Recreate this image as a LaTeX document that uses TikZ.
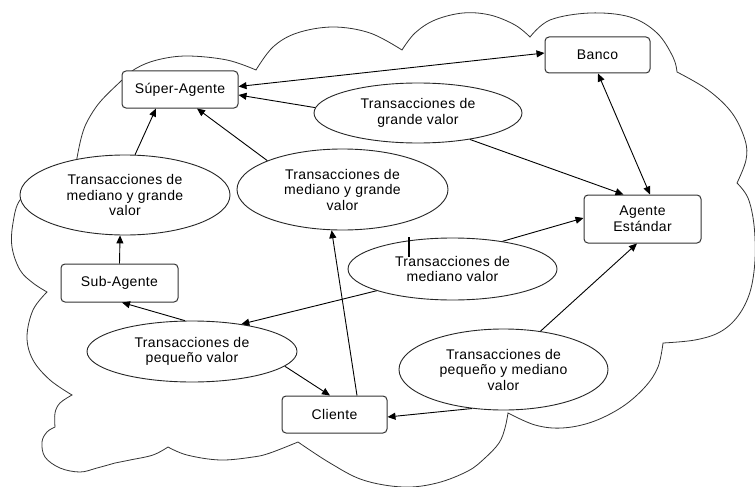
\documentclass[tikz,border=0pt]{standalone}
\usepackage{fontspec}
\setmainfont{Liberation Sans}[LetterSpace=2.5]
\usetikzlibrary{shapes.geometric,arrows.meta,calc}
\newcommand\diagfont{\fontsize{14}{15.5}\selectfont}
\begin{document}
\begin{tikzpicture}[x=1pt,y=-1pt,
  box/.style={draw=black!80, line width=1pt, rounded corners=4pt, fill=white, align=center, inner sep=0pt, font=\diagfont},
  ell/.style={ellipse, draw=black!85, line width=0.9pt, fill=white, align=center, inner sep=0pt, font=\diagfont},
  cloud/.style={draw=black!80, line width=0.8pt, line join=miter},
  conn/.style={draw=black, line width=0.9pt, -{Triangle[length=8pt,width=7pt]}},
  conntwo/.style={draw=black, line width=0.9pt, {Triangle[length=8pt,width=7pt]}-{Triangle[length=8pt,width=7pt]}},
  tick/.style={draw=black, line width=1.6pt}
]
\useasboundingbox (0,0) rectangle (755,487);
% cloud outline
\path[cloud]
  plot[smooth,tension=0.6] coordinates {(74,180) (77,158) (82,135) (88,120) (100,102) (120,82) (135,69) (157,60) (187,56) (227,60) (256,70)}
  -- plot[smooth,tension=0.6] coordinates {(256,70) (273,47) (297,33) (333,27) (370,33) (402,50)}
  -- plot[smooth,tension=0.6] coordinates {(402,50) (415,33) (435,20) (463,13) (490,15) (515,25) (530,37)}
  -- plot[smooth,tension=0.6] coordinates {(530,37) (550,20) (590,13) (630,17) (657,33) (673,57) (677,72)}
  -- plot[smooth,tension=0.6] coordinates {(677,72) (708,90) (732,113) (745,140) (746,160) (737,183)}
  -- plot[smooth,tension=0.6] coordinates {(737,183) (748,198) (754,225) (755,260) (750,292) (738,316) (720,332) (695,340) (663,343)}
  -- plot[smooth,tension=0.6] coordinates {(663,343) (658,367) (645,387) (622,407) (592,422) (562,428) (535,425) (508,413)}
  -- plot[smooth,tension=0.6] coordinates {(508,413) (505,428) (499,443) (485,458) (468,471) (437,483) (403,487) (363,480) (330,463) (298,442)}
  -- plot[smooth,tension=0.6] coordinates {(298,442) (270,453) (253,457) (220,460) (187,455) (168,447)}
  -- plot[smooth,tension=0.6] coordinates {(168,447) (153,455) (130,460) (115,463)}
  -- plot[smooth,tension=0.6] coordinates {(115,463) (97,468) (80,472) (60,468) (45,457) (42,442) (47,432) (55,427)}
  -- plot[smooth,tension=0.6] coordinates {(55,427) (55,413) (60,403) (72,395)}
  -- plot[smooth,tension=0.6] coordinates {(72,395) (50,380) (33,360) (27,337) (33,310) (47,292)}
  -- plot[smooth,tension=0.6] coordinates {(47,292) (33,283) (20,270) (12,247) (13,223) (20,200) (40,186) (74,180)};
% boxes
\node[box, minimum width=116pt, minimum height=37pt] (super) at (180,89.5) {Súper-Agente};
\node[box, minimum width=105pt, minimum height=36pt] (banco) at (597.5,55) {Banco};
\node[box, minimum width=117pt, minimum height=48pt] (agente) at (642.5,219) {Agente\\Estándar};
\node[box, minimum width=117pt, minimum height=38pt] (sub) at (119.5,283) {Sub-Agente};
\node[box, minimum width=105pt, minimum height=37pt] (cliente) at (334.5,414.5) {Cliente};
% ellipses
\node[ell, minimum width=208pt, minimum height=60pt] (e1) at (418,113) {Transacciones de\\grande valor};
\node[ell, minimum width=210pt, minimum height=80pt] (e2) at (125,195) {Transacciones de\\mediano y grande\\valor};
\node[ell, minimum width=211pt, minimum height=81pt] (e3) at (342.5,189.5) {Transacciones de\\mediano y grande\\valor};
\node[ell, minimum width=209pt, minimum height=62pt] (e4) at (452.5,269) {Transacciones de\\mediano valor};
\node[ell, minimum width=210pt, minimum height=61pt] (e5) at (192,351.5) {Transacciones de\\pequeño valor};
\node[ell, minimum width=209pt, minimum height=81pt] (e6) at (503.5,369.5) {Transacciones de\\pequeño y mediano\\valor};
% connectors
\draw[conntwo] ($(super.east)+(0,-3)$) -- ($(banco.west)+(0,-2)$);
\draw[conn] (e1.177) -- ($(super.east)+(0,5.5)$);
\draw[conn] (e1.-27) -- ($(agente.north)+(-19,0)$);
\draw[conntwo] ($(banco.south)+(0.5,0)$) -- ($(agente.north)+(7.5,0)$);
\draw[conn] (e2.76) -- ($(super.south)+(-24,0)$);
\draw[conn] (e3.159) -- ($(super.south)+(17,0)$);
\draw[conn] (sub.north) -- (e2.263);
\draw[conn] (e5.103) -- ($(sub.south)+(2.5,0)$);
\draw[conn] (e4.196) -- (e5.29);
\draw[conn] (e4.29) -- ($(agente.west)+(0,-1)$);
\draw[conn] (e5.-9.5) -- ($(cliente.north)+(-4.5,0)$);
\draw[conn] ($(cliente.north)+(22.5,0)$) -- (e3.255);
\draw[conn] (e6.46) -- ($(agente.south)+(-5.5,0)$);
\draw[conn] (e6.231) -- ($(cliente.east)+(0,2.5)$);
% stray mark
\draw[tick] ($(e4.center)+(-43.5,-32)$) -- ($(e4.center)+(-43.5,-12)$);
\end{tikzpicture}
\end{document}
